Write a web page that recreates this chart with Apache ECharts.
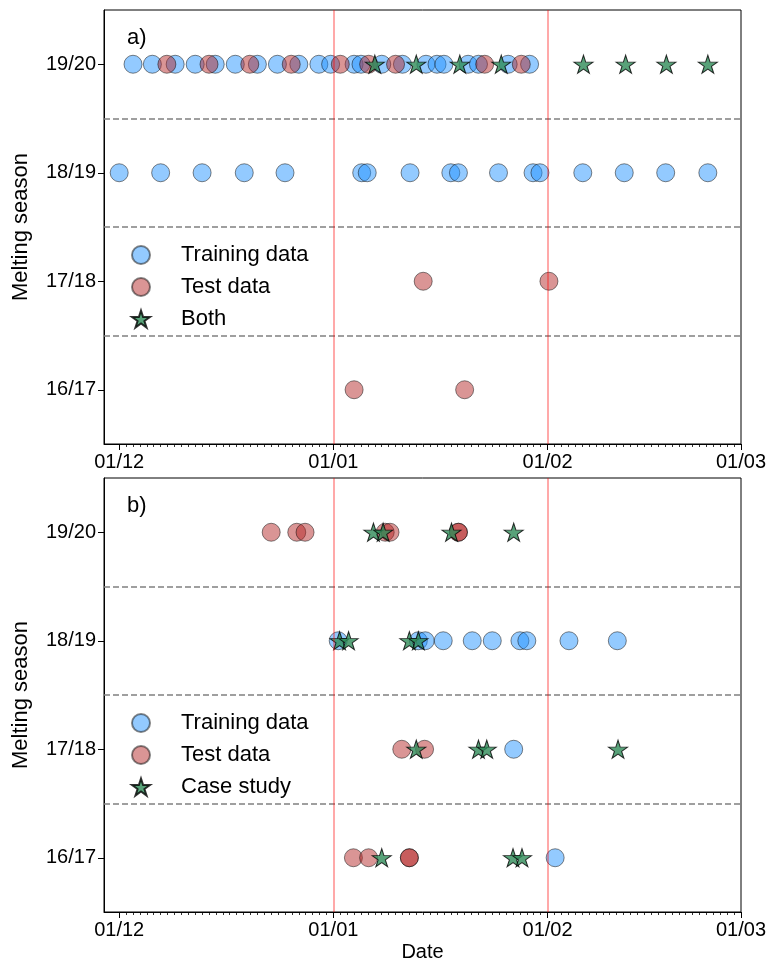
<!DOCTYPE html>
<html>
<head>
<meta charset="utf-8">
<script src="https://cdn.jsdelivr.net/npm/echarts@6/dist/echarts.min.js"></script>
<style>
html,body{margin:0;padding:0;background:#fff;}
#chart{width:774px;height:967px;}
</style>
</head>
<body>
<div id="chart"></div>
<script>
// ---- data (days counted from 1 December) ----
const seasons = ['16/17', '17/18', '18/19', '19/20'];
const tickDays = [0, 31, 62, 90];
const tickLabels = ['01/12', '01/01', '01/02', '01/03'];
const monthLines = [31, 62];
const seasonDividers = [0.5, 1.5, 2.5];

// panel a)
const aTrain1920 = [2, 4.8, 8.1, 11, 13.9, 16.8, 20, 22.9, 26, 28.9, 30.6, 34, 35, 38, 41, 44.4, 46, 47, 50.5, 52, 56.3, 59.4];
const aTrain1819 = [0, 6, 12, 18.1, 24, 35.1, 35.9, 42.1, 48, 49.1, 54.9, 59.9, 60.9, 67.1, 73.1, 79.1, 85.2];
const aTest1920 = [6.9, 13, 18.9, 24.9, 32, 36.1, 40, 52.9, 58.2];
const aTest1718 = [44, 62.2];
const aTest1617 = [34, 50];
const aBoth1920 = [37, 43, 49.3, 55.3, 67.2, 73.3, 79.2, 85.2];

// panel b)
const bTrain1819 = [31.7, 43.3, 44.3, 46.9, 51.1, 54, 58, 59, 65.1, 72.1];
const bTrain1718 = [57.1];
const bTrain1617 = [63.1];
const bTest1920 = [22, 25.7, 26.9, 38.5, 39.2, 49.1, 49.1];
const bTest1718 = [40.9, 44.2];
const bTest1617 = [33.9, 36.1, 42, 42];
const bCase1920 = [36.8, 38.2, 48.1, 57.1];
const bCase1819 = [31.9, 33.2, 42, 43.3];
const bCase1718 = [43, 52, 53.2, 72.2];
const bCase1617 = [38, 57, 58.3];

// ---- helpers ----
const FONT = "'Liberation Sans', Arial, sans-serif";
const STAR = 'path://M100,0 L122.45,69.1 L195.1,69.1 L136.3,111.8 L158.8,180.9 L100,138.2 L41.2,180.9 L63.7,111.8 L4.9,69.1 L77.55,69.1 Z';
const pts = (arr, s) => arr.map(d => [d, s]);
const minorDays = [];
for (let d = 0; d <= 90; d++) minorDays.push(d);

const blueStyle = {color: 'rgba(30,144,255,0.6)', borderColor: 'rgba(0,0,0,0.6)', borderWidth: 1};
const redStyle = {color: 'rgba(178,34,34,0.6)', borderColor: 'rgba(0,0,0,0.6)', borderWidth: 1};
const starStyle = {color: '#2e8b57', borderColor: '#000', borderWidth: 1};

function xAxes(g) {
  return [{
    gridIndex: g, type: 'value', min: -2.2, max: 90, position: 'bottom',
    axisLine: {show: true, onZero: false, lineStyle: {color: '#000', width: 1}},
    axisTick: {show: true, customValues: tickDays, length: 6, lineStyle: {color: '#000', width: 1}},
    axisLabel: {show: true, customValues: tickDays, margin: 8, fontSize: 20, color: '#000', fontFamily: FONT,
      formatter: v => { let i = 0, b = 1e9; tickDays.forEach((t, k) => { if (Math.abs(t - v) < b) { b = Math.abs(t - v); i = k; } }); return tickLabels[i]; }},
    splitLine: {show: false},
    name: g === 1 ? 'Date' : '', nameLocation: 'middle', nameGap: 30,
    nameTextStyle: {fontSize: 20, color: '#000', fontFamily: FONT}
  }, {
    gridIndex: g, type: 'value', min: -2.2, max: 90, position: 'bottom',
    axisLine: {show: false, onZero: false},
    axisTick: {show: true, customValues: minorDays, length: 3, lineStyle: {color: '#000', width: 0.8}},
    axisLabel: {show: false},
    splitLine: {show: false}
  }];
}
function yAxis(g) {
  return {
    gridIndex: g, type: 'value', min: -0.5, max: 3.5,
    axisLine: {show: true, onZero: false, lineStyle: {color: '#000', width: 1}},
    axisTick: {show: true, customValues: [0, 1, 2, 3], length: 6, lineStyle: {color: '#000'}},
    axisLabel: {show: true, customValues: [0, 1, 2, 3], margin: 8, fontSize: 20, color: '#000', fontFamily: FONT,
      formatter: v => seasons[Math.round(v)]},
    splitLine: {show: false},
    name: 'Melting season', nameLocation: 'middle', nameGap: 72,
    nameTextStyle: {fontSize: 22, color: '#000', fontFamily: FONT}
  };
}
function guides(g) {
  return {
    name: 'guides' + g, type: 'scatter', xAxisIndex: g * 2, yAxisIndex: g, data: [], silent: true,
    markLine: {
      silent: true, symbol: ['none', 'none'], label: {show: false}, animation: false,
      data: seasonDividers.map(v => ({yAxis: v, lineStyle: {color: '#808080', type: [6, 3], width: 1.5}}))
        .concat(monthLines.map(v => ({xAxis: v, lineStyle: {color: 'rgba(255,0,0,0.45)', type: 'solid', width: 1.5}})))
    }
  };
}
function circ(name, g, data, style) {
  return {name, type: 'scatter', xAxisIndex: g * 2, yAxisIndex: g, symbol: 'circle', symbolSize: 18,
    itemStyle: style, data, animation: false, emphasis: {disabled: true}};
}
function star(name, g, data) {
  return {name, type: 'scatter', xAxisIndex: g * 2, yAxisIndex: g, symbol: STAR, symbolSize: [19, 18],
    itemStyle: starStyle, data, animation: false, emphasis: {disabled: true}};
}
function legend(top, names) {
  return {
    orient: 'vertical', left: 126, top: top, itemWidth: 18, itemHeight: 18, itemGap: 10,
    textStyle: {fontSize: 22, color: '#000', fontFamily: FONT, padding: [0, 0, 0, 26], lineHeight: 22},
    selectedMode: false,
    data: [{name: names[0], icon: 'circle'}, {name: names[1], icon: 'circle'}, {name: names[2], icon: STAR}]
  };
}

const chart = echarts.init(document.getElementById('chart'), null, {renderer: 'canvas'});
chart.setOption({
  backgroundColor: '#fff',
  animation: false,
  grid: [
    {left: 104, top: 10, width: 637, height: 434, show: true, borderColor: '#000', borderWidth: 1, backgroundColor: 'transparent'},
    {left: 104, top: 478, width: 637, height: 434, show: true, borderColor: '#000', borderWidth: 1, backgroundColor: 'transparent'}
  ],
  xAxis: xAxes(0).concat(xAxes(1)),
  yAxis: [yAxis(0), yAxis(1)],
  legend: [
    legend(239, ['Training data', 'Test data', 'Both']),
    legend(707, ['Training data', 'Test data', 'Case study'])
  ],
  graphic: [
    {type: 'text', left: 127, top: 27, style: {text: 'a)', fontSize: 22, fill: '#000', fontFamily: FONT}},
    {type: 'text', left: 127, top: 495, style: {text: 'b)', fontSize: 22, fill: '#000', fontFamily: FONT}}
  ],
  series: [
    guides(0), guides(1),
    circ('Training data', 0, pts(aTrain1920, 3).concat(pts(aTrain1819, 2)), blueStyle),
    circ('Test data', 0, pts(aTest1920, 3).concat(pts(aTest1718, 1), pts(aTest1617, 0)), redStyle),
    star('Both', 0, pts(aBoth1920, 3)),
    circ('Training data', 1, pts(bTrain1819, 2).concat(pts(bTrain1718, 1), pts(bTrain1617, 0)), blueStyle),
    circ('Test data', 1, pts(bTest1920, 3).concat(pts(bTest1718, 1), pts(bTest1617, 0)), redStyle),
    star('Case study', 1, pts(bCase1920, 3).concat(pts(bCase1819, 2), pts(bCase1718, 1), pts(bCase1617, 0)))
  ]
});
</script>
</body>
</html>
